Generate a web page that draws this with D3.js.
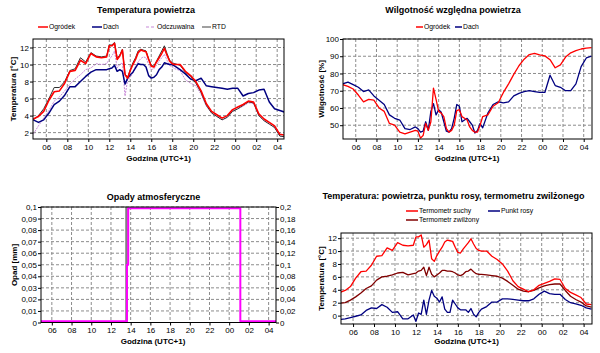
<!DOCTYPE html>
<html>
<head>
<meta charset="utf-8">
<script src="https://cdn.jsdelivr.net/npm/d3@7"></script>
<style>
  body { margin: 0; background: #fff; }
  svg { display: block; font-family: "Liberation Sans", Arial, sans-serif; }
  .grid line { stroke: #8c8c8c; stroke-dasharray: 3,2; stroke-width: 1; }
  .axis path { display: none; }
  .axis line { stroke: #000; }
  .axis text { font-family: "Liberation Sans", Arial, sans-serif; font-size: 8px; fill: #000; }
  .title { font-size: 9px; font-weight: bold; text-anchor: middle; }
  .atitle { font-size: 8px; font-weight: bold; text-anchor: middle; }
  .legend text { font-family: "Liberation Sans", Arial, sans-serif; font-size: 6.8px; }
  .frame { fill: none; stroke: #000; stroke-width: 1; }
  .series { fill: none; stroke-linejoin: round; }
</style>
</head>
<body>
<svg width="600" height="353"></svg>
<script>
// godziny pomiarów (24 = północ, 28 = 04:00 następnego dnia)
const hours = [4.75, 5.25, 5.75, 6.25, 6.75, 7.25, 7.75, 8.25, 8.75, 9.25, 9.75, 10.25, 10.75, 11.25, 11.75,
  12.0, 12.25, 12.5, 12.75, 13.0, 13.25, 13.5, 13.75, 14.0, 14.25, 14.5, 14.75, 15.0, 15.25, 15.5, 15.75,
  16.0, 16.25, 16.5, 16.75, 17.0, 17.25, 17.5, 17.75, 18.0,
  18.25, 18.75, 19.25, 19.75, 20.25, 20.75, 21.25, 21.75, 22.25, 22.75, 23.25, 23.75, 24.25, 24.75,
  25.25, 25.75, 26.25, 26.75, 27.25, 27.75, 28.25, 28.75];

// Temperatura powietrza [°C]
const tempOgrodek = [3.6, 3.9, 4.5, 5.8, 6.8, 6.9, 7.8, 9.2, 9.3, 10.5, 10.1, 11.3, 10.9, 10.8, 10.9,
  12.2, 12.2, 12.5, 10.6, 11.0, 11.7, 8.8, 8.4, 9.3, 10.0, 10.6, 11.4, 11.7, 11.6, 11.5, 10.6,
  9.8, 9.7, 10.3, 10.8, 11.3, 11.9, 11.1, 10.4, 10.1,
  10.0, 10.0, 9.2, 8.7, 8.0, 6.9, 5.4, 4.5, 4.1, 3.7, 4.0, 4.7, 5.0, 5.3,
  5.7, 5.6, 4.2, 3.6, 3.2, 2.8, 1.8, 1.7];
const tempDach = [3.5, 3.2, 3.5, 4.3, 5.3, 5.7, 6.4, 7.4, 7.4, 8.0, 8.6, 9.1, 9.4, 9.4, 9.4,
  9.5, 9.6, 9.9, 9.2, 9.4, 9.2, 7.7, 8.4, 8.8, 9.1, 9.6, 10.1, 10.0, 10.0, 9.7, 8.7,
  8.4, 8.5, 8.8, 9.4, 9.7, 10.2, 10.1, 10.0, 10.0,
  9.8, 9.4, 8.9, 8.3, 8.1, 8.4, 7.5, 7.4, 7.3, 7.2, 7.1, 7.2, 7.2, 6.3,
  6.6, 6.7, 7.0, 7.1, 5.6, 4.8, 4.6, 4.4];
const tempOdczuwalna = [1.8, 2.8, 3.7, 4.6, 5.7, 6.2, 6.9, 7.7, 8.3, 8.8, 9.4, 9.6, 10.1, 10.0, 10.1,
  10.6, 11.0, 11.6, 9.6, 10.0, 10.2, 6.3, 8.2, 8.5, 9.0, 9.8, 10.3, 10.7, 10.9, 10.8, 10.0,
  9.4, 9.5, 9.9, 10.4, 10.8, 11.2, 10.5, 9.9, 9.7,
  9.5, 9.3, 8.2, 7.8, 7.5, 6.5, 5.1, 4.3, 3.9, 3.5, 3.8, 4.5, 4.8, 5.1,
  5.5, 5.4, 4.0, 3.4, 3.0, 2.6, 1.6, 1.5];
const tempRTD = [3.5, 4.0, 4.8, 6.0, 7.3, 7.3, 8.0, 9.3, 9.5, 10.8, 10.3, 11.4, 11.0, 10.9, 11.0,
  12.3, 12.3, 12.6, 10.8, 11.1, 11.8, 8.9, 8.5, 9.4, 10.2, 10.8, 11.6, 11.8, 11.7, 11.6, 10.7,
  9.9, 9.8, 10.4, 11.0, 11.6, 12.2, 11.3, 10.5, 10.2,
  10.1, 9.9, 9.1, 8.6, 7.8, 6.7, 5.2, 4.3, 3.9, 3.5, 3.8, 4.5, 4.8, 5.2,
  5.6, 5.5, 4.0, 3.4, 3.0, 2.6, 1.6, 1.5];

// Wilgotność względna [%]
const rhOgrodek = [73.5, 72.5, 71, 67.5, 63.5, 65, 64.5, 60, 58, 51, 50, 46, 45, 46, 47,
  46.5, 42.5, 44, 51, 47, 52, 71.5, 65, 58, 57, 55, 48, 46, 47, 50, 58.5,
  59, 55, 54, 53, 49, 47, 46, 46, 50,
  55, 56, 61, 63, 69, 74, 79.5, 84.5, 88.3, 91, 91.6, 90.8, 90.2, 88,
  83.3, 85, 89.5, 92, 93.3, 94.2, 94.7, 95];
const rhDach = [74, 75, 73.5, 72, 69.5, 70.5, 67, 64.5, 62, 56, 54, 53, 48, 47.5, 49,
  48, 46, 46.5, 52, 47, 58, 62.5, 56, 59, 57.5, 52, 46.5, 46, 48, 54, 62,
  61, 52, 53, 54, 52, 50, 45.5, 47, 51,
  48.5, 57, 62, 63.5, 63, 63.5, 67, 68.5, 69.5, 70, 69.5, 69, 69, 79,
  73, 72, 70, 70, 74, 84, 89, 90];

// Temperatura termometru zwilżonego i punktu rosy [°C]
const tempZwilzony = [1.9, 2.0, 2.4, 2.9, 3.5, 4.2, 4.6, 5.5, 6.0, 6.1, 6.3, 6.6, 6.7, 6.3, 6.5,
  6.6, 6.9, 7.0, 7.5, 6.2, 7.5, 6.4, 6.0, 6.3, 6.6, 7.0, 7.0, 6.9, 6.9, 6.8, 6.6,
  6.3, 6.2, 6.4, 6.8, 6.9, 7.2, 6.8, 6.5, 6.4,
  6.4, 6.3, 6.2, 6.1, 5.8, 5.3, 4.7, 4.1, 3.8, 3.7, 3.9, 4.3, 4.6, 4.8,
  4.9, 4.9, 3.9, 3.0, 2.5, 2.1, 1.5, 1.3];
const tempPunktRosy = [-0.6, -0.5, -0.3, -0.1, 0.1, 0.8, 1.2, 1.1, 1.7, 1.3, 0.5, 0.6, -0.5, -0.5, 0.1,
  -0.9, 0.4, 0.2, 2.4, 0.2, 2.4, 3.9, 3.0, 2.7, 2.1, 2.9, 1.0, 0.5, 0.5, 2.4, 1.8,
  1.2, 0.9, 0.9, 0.9, 0.5, 1.1, 0.2, -0.2, 0.5,
  1.0, 1.4, 2.1, 2.1, 2.6, 2.6, 2.5, 2.4, 2.3, 2.3, 2.6, 3.3, 3.8, 3.4,
  3.3, 3.3, 2.5, 2.0, 1.8, 1.6, 1.2, 1.0];

// Opady [mm]
const opadHours = [13.55];
const opadValues = [0.1];
const sumaHours = [4.9, 13.62, 13.75, 25.13, 28.75];
const sumaValues = [0.002, 0.1, 0.198, 0.002, 0.002];

const hourTicks = d3.range(6, 29, 2);
const fmtHour = h => String(h % 24).padStart(2, "0");
const fmtComma = d => d === 0 ? "0" : String(+d.toFixed(2)).replace(".", ",");

const svg = d3.select("svg");

function panel(id, box, xDom, yDom, yTicks, yFmt) {
  const x = d3.scaleLinear().domain(xDom).range([box.l, box.r]);
  const y = d3.scaleLinear().domain(yDom).range([box.b, box.t]);
  const g = svg.append("g");

  g.append("clipPath").attr("id", id)
    .append("rect").attr("x", box.l).attr("y", box.t)
    .attr("width", box.r - box.l).attr("height", box.b - box.t);

  const grid = g.append("g").attr("class", "grid");
  grid.selectAll(".gx").data(hourTicks).join("line")
    .attr("x1", d => x(d)).attr("x2", d => x(d))
    .attr("y1", box.t).attr("y2", box.b);
  grid.selectAll(".gy").data(yTicks).join("line")
    .attr("x1", box.l).attr("x2", box.r)
    .attr("y1", d => y(d)).attr("y2", d => y(d));

  g.append("g").attr("class", "axis")
    .attr("transform", `translate(0,${box.b})`)
    .call(d3.axisBottom(x).tickValues(hourTicks).tickFormat(fmtHour).tickSize(3).tickPadding(2));
  g.append("g").attr("class", "axis")
    .attr("transform", `translate(${box.l},0)`)
    .call(d3.axisLeft(y).tickValues(yTicks).tickFormat(yFmt).tickSize(3).tickPadding(1));

  const plot = g.append("g").attr("clip-path", `url(#${id})`);
  return { x, y, g, plot, box };
}

function series(p, values, color, width, dash) {
  p.plot.append("path")
    .datum(values)
    .attr("class", "series")
    .attr("stroke", color)
    .attr("stroke-width", width)
    .attr("stroke-dasharray", dash || null)
    .attr("d", d3.line().x((d, i) => p.x(hours[i])).y(d => p.y(d)));
}

function frame(p) {
  p.g.append("rect").attr("class", "frame")
    .attr("x", p.box.l).attr("y", p.box.t)
    .attr("width", p.box.r - p.box.l).attr("height", p.box.b - p.box.t);
}

function legend(x, y, len, color, width, dash, label) {
  const g = svg.append("g").attr("class", "legend");
  g.append("line").attr("x1", x).attr("x2", x + len).attr("y1", y).attr("y2", y)
    .attr("stroke", color).attr("stroke-width", width).attr("stroke-dasharray", dash || null);
  g.append("text").attr("x", x + len + 1).attr("y", y).attr("dy", "0.35em").text(label);
}

function titles(text, cx, cy, xt, xcx, xcy, yt, ycx, ycy) {
  svg.append("text").attr("class", "title").attr("x", cx).attr("y", cy).text(text);
  svg.append("text").attr("class", "atitle").attr("x", xcx).attr("y", xcy).text(xt);
  svg.append("text").attr("class", "atitle")
    .attr("transform", `translate(${ycx},${ycy}) rotate(-90)`)
    .attr("dy", "0.35em").text(yt);
}

// --- Temperatura powietrza ---
const p1 = panel("c1", { l: 33, r: 284, t: 39, b: 139 }, [4.73, 28.65], [1.25, 13], d3.range(2, 13, 2), d => d);
series(p1, tempOdczuwalna, "#c88ad8", 1, "2,1");
series(p1, tempDach, "#000080", 1.5);
series(p1, tempRTD, "#303030", 1);
series(p1, tempOgrodek, "#ff0000", 1.6);
frame(p1);
titles("Temperatura powietrza", 146, 13, "Godzina (UTC+1)", 158.5, 161, "Temperatura [°C]", 13, 89);
legend(38, 27, 10, "#ff0000", 1.5, null, "Ogródek");
legend(92, 27, 10, "#000080", 1.5, null, "Dach");
legend(146, 27, 10, "#c88ad8", 1.2, "3,2", "Odczuwalna");
legend(202, 27, 9, "#808080", 1.5, null, "RTD");

// --- Wilgotność względna ---
const p2 = panel("c2", { l: 343, r: 592, t: 39, b: 139 }, [4.77, 28.8], [42, 100], d3.range(50, 101, 10), d => d);
series(p2, rhDach, "#000080", 1.3);
series(p2, rhOgrodek, "#ff0000", 1.3);
frame(p2);
titles("Wilgotność względna powietrza", 453, 13, "Godzina (UTC+1)", 467, 161, "Wilgotność [%]", 321, 89);
legend(416, 27, 7, "#ff0000", 1.5, null, "Ogródek");
legend(455, 27, 7, "#000080", 1.5, null, "Dach");

// --- Opady atmosferyczne ---
const p3 = panel("c3", { l: 41, r: 276, t: 207, b: 322.5 }, [4.9, 28.75], [0, 0.1],
  d3.range(11).map(i => i / 100), fmtComma);
const y3r = d3.scaleLinear().domain([0, 0.2]).range([322.5, 207]);
p3.g.append("g").attr("class", "axis")
  .attr("transform", "translate(276,0)")
  .call(d3.axisRight(y3r).tickValues(d3.range(11).map(i => i / 50)).tickFormat(fmtComma).tickSize(3).tickPadding(1));
p3.plot.selectAll(".bar").data(opadValues).join("rect")
  .attr("x", (d, i) => p3.x(opadHours[i]) - 1)
  .attr("width", 2.5)
  .attr("y", d => p3.y(d))
  .attr("height", d => p3.y(0) - p3.y(d))
  .attr("fill", "#808080");
p3.plot.append("path")
  .datum(sumaValues)
  .attr("class", "series")
  .attr("stroke", "#ff00ff").attr("stroke-width", 2)
  .attr("d", d3.line().curve(d3.curveStepAfter).x((d, i) => p3.x(sumaHours[i])).y(d => y3r(d)));
frame(p3);
titles("Opady atmosferyczne", 153.5, 200, "Godzina (UTC+1)", 153, 344, "Opad [mm]", 14, 265);

// --- Temperatura: powietrza, punktu rosy, termometru zwilżonego ---
const p4 = panel("c4", { l: 341, r: 592, t: 233, b: 324 }, [4.85, 28.8], [-1.3, 12.8], d3.range(0, 13, 2), d => d);
series(p4, tempPunktRosy, "#000080", 1.3);
series(p4, tempZwilzony, "#800000", 1.3);
series(p4, tempOgrodek, "#ff0000", 1.3);
frame(p4);
titles("Temperatura: powietrza, punktu rosy, termometru zwilżonego", 453.5, 198.5, "Godzina (UTC+1)", 466.5, 344,
  "Temperatura [°C]", 321, 278.5);
legend(406, 211, 12, "#ff0000", 1.5, null, "Termometr suchy");
legend(488, 211, 12, "#000080", 1.5, null, "Punkt rosy");
legend(406, 220, 12, "#800000", 1.5, null, "Termometr zwilżony");
</script>
</body>
</html>
